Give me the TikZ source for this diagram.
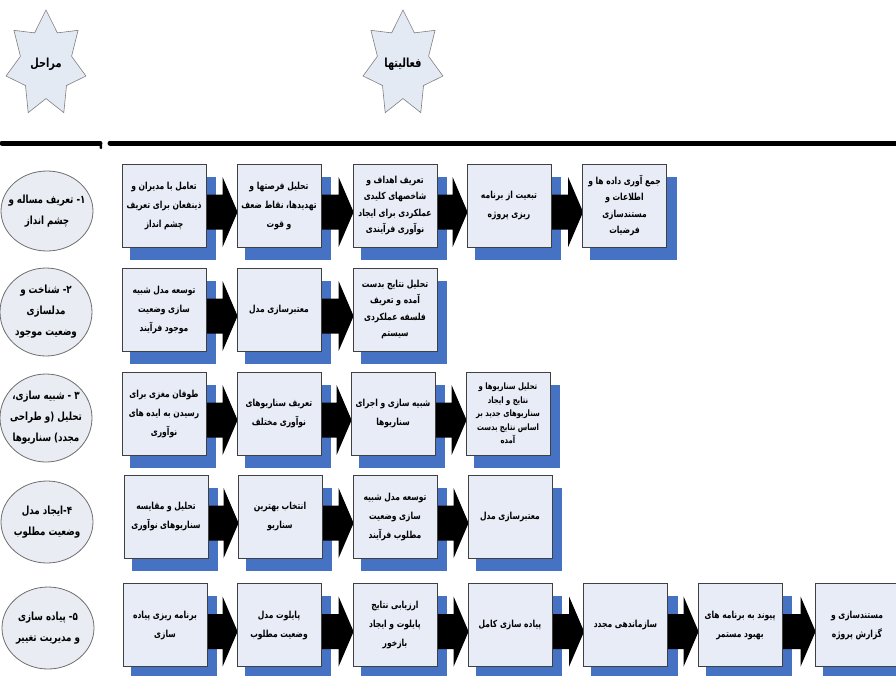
\documentclass[tikz,border=0pt]{standalone}
\usepackage{fontspec}
\usetikzlibrary{shapes.geometric,calc}
\TeXXeTstate=1
\newfontfamily\fa[Script=Arabic, FakeStretch=0.78]{DejaVu Sans}
\definecolor{boxfill}{RGB}{231,236,246}
\definecolor{boxdraw}{RGB}{64,64,64}
\definecolor{shadowblue}{RGB}{70,114,196}
\definecolor{ellfill}{RGB}{233,236,242}
\definecolor{elldraw}{RGB}{110,110,110}
\definecolor{starfill}{RGB}{228,234,244}
\definecolor{stardraw}{RGB}{127,127,127}
\pgfdeclarelayer{back}
\pgfdeclarelayer{mid}
\pgfsetlayers{back,mid,main}
\newcommand\fl[1]{\beginR #1\endR}
\tikzset{
  stepbox/.style={draw=boxdraw, line width=0.8pt, fill=boxfill, minimum width=84pt, minimum height=83pt,
    inner sep=0pt, align=center, font=\fa\bfseries\fontsize{9.7}{19}\selectfont},
  densebox/.style={stepbox, font=\fa\bfseries\fontsize{9.7}{16.5}\selectfont},
  smallbox/.style={stepbox, font=\fa\bfseries\fontsize{8.8}{13.5}\selectfont},
  phase/.style={ellipse, draw=elldraw, line width=0.8pt, fill=ellfill, minimum width=92pt, minimum height=80pt,
    inner sep=0pt},
  phasetext/.style={inner sep=0pt, align=center, font=\fa\bfseries\fontsize{11.2}{21}\selectfont},
  startext/.style={inner sep=0pt, font=\fa\bfseries\fontsize{12.5}{14}\selectfont},
  starline/.style={draw=stardraw, line width=0.6pt, fill=starfill},
  thickrule/.style={line width=5pt, line cap=round}
}
\newcommand\pbox[5][stepbox]{%
  \node[#1] (#2) at (#3,#4) {#5};
  \begin{pgfonlayer}{back}
    \fill[shadowblue] ($(#2.north west)+(8,13)$) rectangle ($(#2.south east)+(10,13)$);
  \end{pgfonlayer}}
\newcommand\barrow[2]{%
  \begin{pgfonlayer}{mid}
    \fill[black] let \p1=(#1.east), \p2=(#2.west) in
      (\x1,\y1+11pt) -- (\x2-14pt,\y1+11pt) -- (\x2-14pt,\y1+28.5pt) -- (\x2+1pt,\y1-6.5pt)
      -- (\x2-14pt,\y1-41.5pt) -- (\x2-14pt,\y1-24pt) -- (\x1,\y1-24pt) -- cycle;
  \end{pgfonlayer}}
\newcommand\phaseat[5]{% name, x, y, height, text
  \node[phase, minimum height=#4pt] (#1) at (#2,#3) {};
  \node[phasetext] (#1t) at (#1.center) {#5};}
\begin{document}
\begin{tikzpicture}[x=1pt,y=-1pt]
\useasboundingbox (0,0) rectangle (896,675);
% stars
\draw[starline] plot[samples at={0,...,13}, variable=\k]
  ({46+41*(0.82+0.18*cos(\k*180))*cos(90+\k*180/7)}, {64-54*(0.82+0.18*cos(\k*180))*sin(90+\k*180/7)}) -- cycle;
\node[startext] (starL) at (46,64) {\fl{مراحل}};
\draw[starline] plot[samples at={0,...,13}, variable=\k]
  ({403+41*(0.82+0.18*cos(\k*180))*cos(90+\k*180/7)}, {64-54*(0.82+0.18*cos(\k*180))*sin(90+\k*180/7)}) -- cycle;
\node[startext] (starR) at (403,64) {\fl{فعالیتها}};
% rules
\draw[thickrule] (2,143) -- (100,143);
\draw[line width=2.5pt, line cap=round] (100.5,143) -- (101,148);
\draw[thickrule] (110,143) -- (900,143);
% phases
\phaseat{p1}{47}{211}{80}{\fl{۱- تعریف مساله و}\\\fl{چشم انداز}}
\phaseat{p2}{46}{312}{88}{\fl{۲- شناخت و}\\\fl{مدلسازی}\\\fl{وضعیت موجود}}
\phaseat{p3}{46}{418}{88}{\fl{۳ - شبیه سازی،}\\\fl{تحلیل (و طراحی}\\\fl{مجدد) سناریوها}}
\phaseat{p4}{47}{522}{82}{\fl{۴-ایجاد مدل}\\\fl{وضعیت مطلوب}}
\phaseat{p5}{48}{628}{82}{\fl{۵- پیاده سازی}\\\fl{و مدیریت تغییر}}
% row 1
\pbox{b11}{164}{205.5}{\fl{تعامل با مدیران و}\\\fl{ذینفعان برای تعریف}\\\fl{چشم انداز}}
\pbox{b12}{279}{205.5}{\fl{تحلیل فرصتها و}\\\fl{تهدیدها، نقاط ضعف}\\\fl{و قوت}}
\pbox[densebox]{b13}{395}{205.5}{\fl{تعریف اهداف و}\\\fl{شاخصهای کلیدی}\\\fl{عملکردی برای ایجاد}\\\fl{نوآوری فرآیندی}}
\pbox{b14}{509}{205.5}{\fl{تبعیت از برنامه}\\\fl{ریزی پروژه}}
\pbox[densebox]{b15}{624.5}{205.5}{\fl{جمع آوری داده ها و}\\\fl{اطلاعات و}\\\fl{مستندسازی}\\\fl{فرضیات}}
\barrow{b11}{b12}\barrow{b12}{b13}\barrow{b13}{b14}\barrow{b14}{b15}
% row 2
\pbox{b21}{164}{309.5}{\fl{توسعه مدل شبیه}\\\fl{سازی وضعیت}\\\fl{موجود فرآیند}}
\pbox{b22}{279}{309.5}{\fl{معتبرسازی مدل}}
\pbox[densebox]{b23}{395}{309.5}{\fl{تحلیل نتایج بدست}\\\fl{آمده و تعریف}\\\fl{فلسفه عملکردی}\\\fl{سیستم}}
\barrow{b21}{b22}\barrow{b22}{b23}
% row 3
\pbox{b31}{164}{413.5}{\fl{طوفان مغزی برای}\\\fl{رسیدن به ایده های}\\\fl{نوآوری}}
\pbox{b32}{279}{413.5}{\fl{تعریف سناریوهای}\\\fl{نوآوری مختلف}}
\pbox{b33}{393}{413.5}{\fl{شبیه سازی و اجرای}\\\fl{سناریوها}}
\pbox[smallbox]{b34}{508}{413.5}{\fl{تحلیل سناریوها و}\\\fl{نتایج و ایجاد}\\\fl{سناریوهای جدید بر}\\\fl{اساس نتایج بدست}\\\fl{آمده}}
\barrow{b31}{b32}\barrow{b32}{b33}\barrow{b33}{b34}
% row 4
\pbox{b41}{166}{516.5}{\fl{تحلیل و مقایسه}\\\fl{سناریوهای نوآوری}}
\pbox{b42}{280}{516.5}{\fl{انتخاب بهترین}\\\fl{سناریو}}
\pbox{b43}{395}{516.5}{\fl{توسعه مدل شبیه}\\\fl{سازی وضعیت}\\\fl{مطلوب فرآیند}}
\pbox{b44}{510}{516.5}{\fl{معتبرسازی مدل}}
\barrow{b41}{b42}\barrow{b42}{b43}\barrow{b43}{b44}
% row 5
\pbox{b51}{165}{625}{\fl{برنامه ریزی پیاده}\\\fl{سازی}}
\pbox{b52}{279}{625}{\fl{پایلوت مدل}\\\fl{وضعیت مطلوب}}
\pbox{b53}{395}{625}{\fl{ارزیابی نتایج}\\\fl{پایلوت و ایجاد}\\\fl{بازخور}}
\pbox{b54}{510}{625}{\fl{پیاده سازی کامل}}
\pbox{b55}{625.5}{625}{\fl{سازماندهی مجدد}}
\pbox{b56}{740}{625}{\fl{پیوند به برنامه های}\\\fl{بهبود مستمر}}
\pbox{b57}{857}{625}{\fl{مستندسازی و}\\\fl{گزارش پروژه}}
\barrow{b51}{b52}\barrow{b52}{b53}\barrow{b53}{b54}\barrow{b54}{b55}\barrow{b55}{b56}\barrow{b56}{b57}
\end{tikzpicture}
\end{document}
